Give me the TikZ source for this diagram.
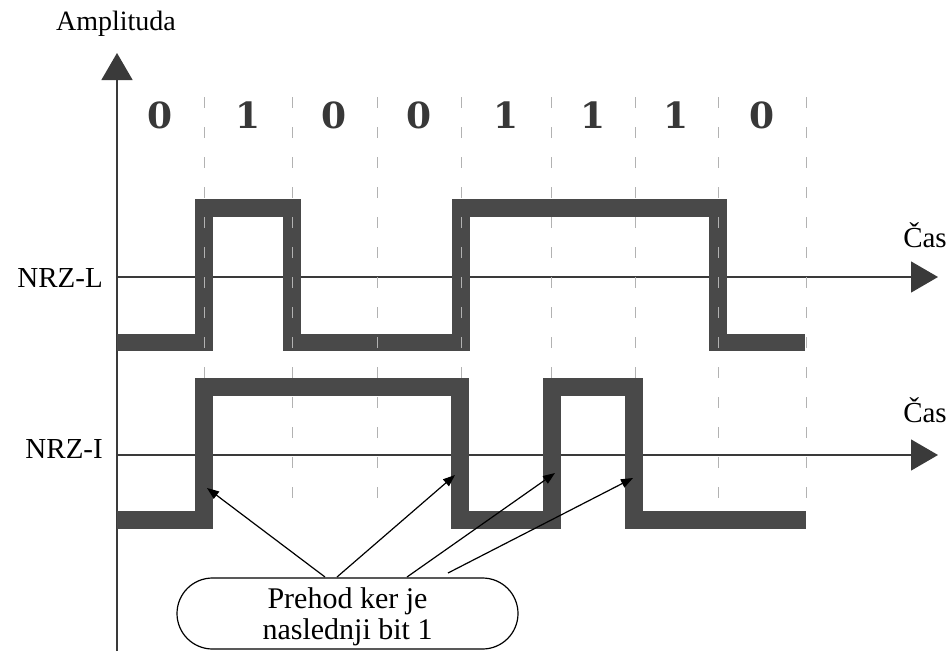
\documentclass[tikz,border=0pt]{standalone}
\usepackage{fontspec}
\setmainfont{Liberation Serif}
\newfontfamily\bitfont{DejaVu Serif}
\usetikzlibrary{arrows.meta,shapes.misc}
\definecolor{signal}{HTML}{494949}
\definecolor{axisgray}{HTML}{3A3A3A}
\begin{document}
\begin{tikzpicture}[x=1pt,y=-1pt,
  axisline/.style={line width=1.4pt, draw=axisgray},
  bigtip/.style={-{Triangle[length=27pt,width=31pt]}},
  wave/.style={line width=17.5pt, draw=signal, line join=miter},
  slot/.style={line width=1pt, draw=black!30, dash pattern=on 11pt off 19pt},
  label/.style={font=\fontsize{29}{31}\selectfont, inner sep=0pt},
  bitlabel/.style={font=\bitfont\bfseries\fontsize{36}{36}\selectfont, text=black!78, inner sep=0pt, anchor=base},
  pointer/.style={line width=1.2pt, -{Triangle[length=12pt,width=9pt]}},
  note/.style={draw, line width=1.2pt, rounded rectangle, minimum width=341pt,
    minimum height=71pt, inner sep=0pt, font=\fontsize{30}{31}\selectfont},
]
\useasboundingbox (0,0) rectangle (951,651);

% axes
\coordinate (ybot) at (117,651);
\coordinate (ytop) at (117,53);
\coordinate (Lfrom) at (117,277);
\coordinate (Lto) at (938,277);
\coordinate (Ifrom) at (117,455);
\coordinate (Ito) at (938,455);
\draw[axisline,bigtip] (ybot) -- (ytop);
\draw[axisline,bigtip] (Lfrom) -- (Lto);
\draw[axisline,bigtip] (Ifrom) -- (Ito);

% NRZ-L waveform
\draw[wave] (117,342.5) -- (204,342.5) -- (204,208) -- (292,208) -- (292,342.5)
  -- (461,342.5) -- (461,208) -- (718,208) -- (718,342.5) -- (805,342.5);

% bit slot boundaries
\foreach \x in {204,292,377,461,551,635,718,806}
  \draw[slot] (\x,97) -- (\x,502);

% NRZ-I waveform
\draw[wave] (117,520) -- (204,520) -- (204,387) -- (460,387) -- (460,520)
  -- (552,520) -- (552,387) -- (634,387) -- (634,520) -- (806,520);

% bit values
\foreach \x/\b in {160/0,248/1,334/0,419/0,506/1,593/1,676/1,762/0}
  \node[bitlabel] (bit\x) at (\x,128) {\b};

% labels
\node[label, font=\fontsize{28}{30}\selectfont, anchor=base] (amp) at (116,30) {Amplituda};
\node[label, anchor=base east] (nrzl) at (103,287) {NRZ-L};
\node[label, anchor=base east] (nrzi) at (103,458) {NRZ-I};
\node[label, anchor=base] (casL) at (925,247) {Čas};
\node[label, anchor=base] (casI) at (925,422) {Čas};

% callout
\node[note] (note) at (347.5,613.5)
  {\raisebox{-4pt}[\height][\depth]{\begin{tabular}{@{}c@{}}Prehod ker je\\ naslednji bit 1\end{tabular}}};

\coordinate (s1) at (325,577);
\coordinate (s2) at (337,577);
\coordinate (s3) at (407,577);
\coordinate (s4) at (448,573);
\coordinate (t1) at (207,488);
\coordinate (t2) at (455,475);
\coordinate (t3) at (555,473);
\coordinate (t4) at (633,478);
\draw[pointer] (s1) -- (t1);
\draw[pointer] (s2) -- (t2);
\draw[pointer] (s3) -- (t3);
\draw[pointer] (s4) -- (t4);
\end{tikzpicture}
\end{document}
